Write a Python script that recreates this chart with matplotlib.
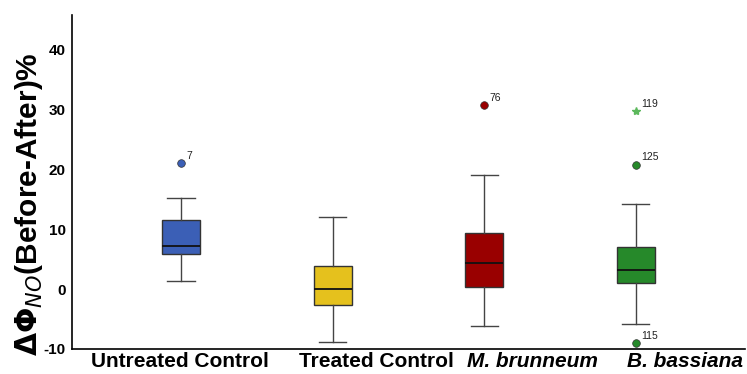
import matplotlib

matplotlib.use("Agg")
import matplotlib.pyplot as plt

plt.rcParams["font.family"] = ["Liberation Sans", "DejaVu Sans"]

# Box summary values
groups = ["Untreated Control", "Treated Control", "M. brunneum", "B. bassiana"]
whislo = [1.3, -8.8, -6.2, -5.8]
q1 = [5.8, -2.7, 0.3, 1.0]
med = [7.2, 0.0, 4.3, 3.2]
q3 = [11.5, 3.8, 9.3, 7.0]
whishi = [15.3, 12.0, 19.0, 14.2]
colors = ["#3b5fb6", "#e5c11d", "#990000", "#26892a"]

# Outliers: (group index, value, case label, marker)
outlier_group = [0, 2, 3, 3, 3]
outlier_value = [21.0, 30.7, 29.8, 20.8, -9.0]
outlier_label = ["7", "76", "119", "125", "115"]
outlier_marker = ["o", "o", "*", "o", "o"]

fig = plt.figure(figsize=(7.47, 3.74), dpi=100)
ax = fig.add_axes([0.097, 0.067, 0.9, 0.893])

stats = [
    {"whislo": whislo[i], "q1": q1[i], "med": med[i], "q3": q3[i],
     "whishi": whishi[i], "fliers": []}
    for i in range(len(groups))
]
pos = list(range(1, len(groups) + 1))
bp = ax.bxp(stats, positions=pos, widths=0.25, patch_artist=True,
            boxprops=dict(edgecolor="#333333", linewidth=1.0),
            medianprops=dict(color="#111111", linewidth=1.3),
            whiskerprops=dict(color="#444444", linewidth=1.0),
            capprops=dict(color="#444444", linewidth=1.0),
            capwidths=0.18)
for patch, c in zip(bp["boxes"], colors):
    patch.set_facecolor(c)

for g, v, lab, m in zip(outlier_group, outlier_value, outlier_label, outlier_marker):
    if m == "*":
        ax.plot(pos[g], v, marker="*", color="#5cb85c", markersize=6, linestyle="none")
    else:
        ax.plot(pos[g], v, marker="o", color=colors[g], markeredgecolor="#333333",
                markeredgewidth=0.5, markersize=5.5, linestyle="none")
    ax.annotate(lab, (pos[g], v), xytext=(4, 3), textcoords="offset points",
                fontsize=7.5, color="#222222")

ax.set_xlim(0.283, 4.72)
ax.set_ylim(-10, 45.8)
ax.set_yticks([-10, 0, 10, 20, 30, 40])
ax.set_yticklabels(["-10", "0", "10", "20", "30", "40"], fontweight="bold", fontsize=11)
ax.tick_params(axis="y", length=0, pad=5)
ax.tick_params(axis="x", length=0, pad=2)
# category labels sit a little right of their boxes in the original
ax.set_xticks([0.995, 2.287, 3.316, 4.325])
ax.set_xticklabels(groups, fontweight="bold", fontsize=15)
for t in ax.get_xticklabels()[2:]:
    t.set_style("italic")

ax.spines["top"].set_visible(False)
ax.spines["right"].set_visible(False)
ax.spines["left"].set_linewidth(1.2)
ax.spines["bottom"].set_linewidth(1.2)

ax.set_ylabel(r"$\mathbf{\Delta\Phi}_{\mathit{NO}}$(Before-After)%",
              fontsize=21.5, fontweight="bold")
ax.yaxis.set_label_coords(-0.041, 0.435)

fig.savefig("out.png", dpi=100)
